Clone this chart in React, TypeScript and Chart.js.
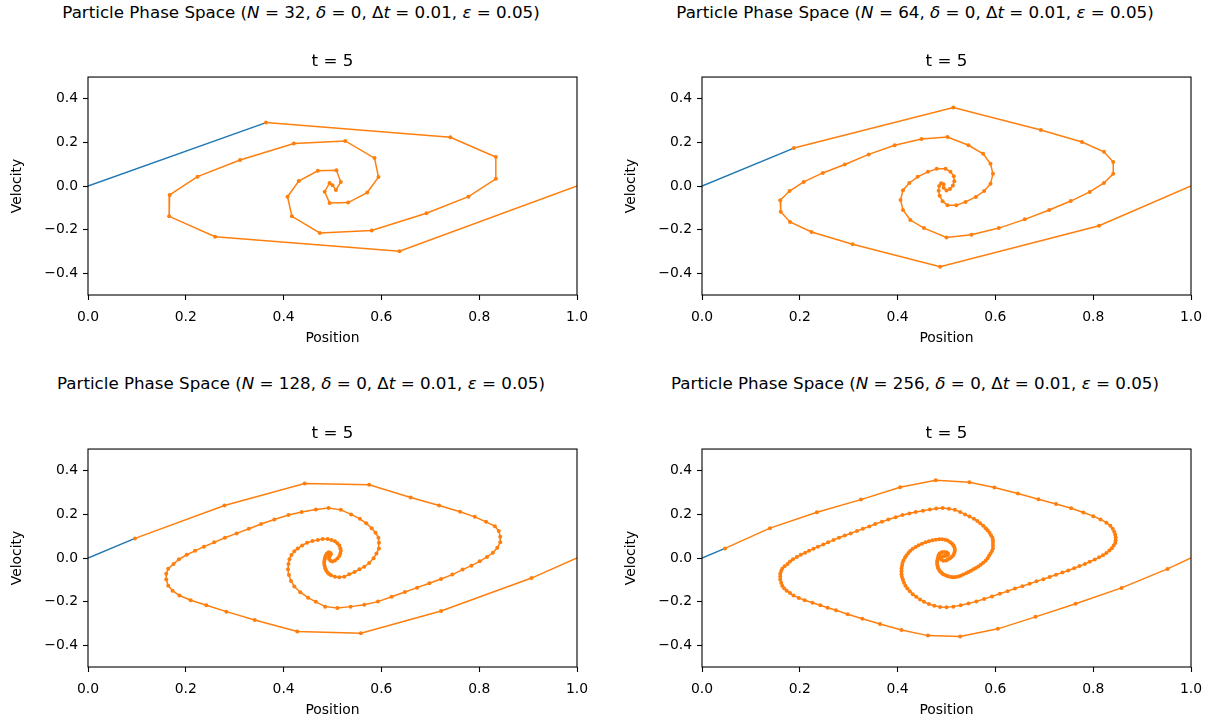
import React, { useEffect, useRef } from "react";
import { Chart, registerables } from "chart.js";

Chart.register(...registerables);

// Colours of the two line segments (matplotlib tab10 blue / orange)
const BLUE = "#1f77b4";
const ORANGE = "#ff7f0e";
const FONT = "'DejaVu Sans', 'Liberation Sans', sans-serif";

const xTickValues = [0, 0.2, 0.4, 0.6, 0.8, 1.0];
const vTickValues = [-0.4, -0.2, 0, 0.2, 0.4];
const timeLabel = "t = 5";

// Particle states at t = 5, in particle order. Particle 0 sits at (0, 0)
// and wraps to (1, 0); the arrays below hold particles 1 .. N-1.
const x32 = [0.364, 0.741, 0.834, 0.834, 0.778, 0.692, 0.580, 0.474, 0.417, 0.408, 0.431, 0.470, 0.508, 0.517, 0.507, 0.500, 0.494, 0.484, 0.494, 0.532, 0.571, 0.594, 0.586, 0.526, 0.421, 0.311, 0.224, 0.167, 0.166, 0.260, 0.637];
const v32 = [0.291, 0.224, 0.133, 0.033, -0.049, -0.125, -0.204, -0.215, -0.139, -0.049, 0.023, 0.070, 0.072, 0.018, -0.018, 0.003, 0.014, -0.026, -0.078, -0.076, -0.030, 0.041, 0.128, 0.207, 0.195, 0.119, 0.043, -0.041, -0.139, -0.233, -0.299];

const x64 = [
  0.188, 0.514, 0.693, 0.777, 0.822, 0.841, 0.841, 0.822, 0.793, 0.754, 0.710, 0.660, 0.607, 0.551, 0.500, 0.454, 0.426, 0.411, 0.406, 0.411, 0.424, 0.441, 0.462, 0.480, 0.498,
  0.508, 0.515, 0.516, 0.513, 0.507, 0.500, 0.494, 0.494,
  0.489, 0.485, 0.484, 0.486, 0.492,
  0.502, 0.520, 0.539, 0.560, 0.577, 0.590, 0.595, 0.590, 0.575, 0.545, 0.502, 0.449, 0.394, 0.341, 0.292, 0.247, 0.208, 0.179, 0.160, 0.161, 0.180, 0.224, 0.308, 0.487, 0.812,
];
const v64 = [
  0.174, 0.360, 0.257, 0.202, 0.157, 0.110, 0.056, 0.014, -0.027, -0.069, -0.110, -0.153, -0.193, -0.224, -0.236, -0.193, -0.156, -0.110, -0.064, -0.019, 0.014, 0.042, 0.065, 0.079, 0.079,
  0.066, 0.045, 0.022, 0.002, -0.014, -0.020, -0.008, 0.008,
  0.013, 0.000, -0.022, -0.045, -0.070,
  -0.088, -0.088, -0.073, -0.050, -0.023, 0.010, 0.056, 0.102, 0.148, 0.187, 0.225, 0.216, 0.187, 0.145, 0.099, 0.060, 0.019, -0.023, -0.065, -0.118, -0.165, -0.211, -0.267, -0.370, -0.182,
];

const x128 = [
  0.096, 0.279, 0.443, 0.575, 0.660, 0.718, 0.761, 0.791, 0.814, 0.832, 0.840, 0.843, 0.843, 0.837, 0.828, 0.816, 0.801, 0.784, 0.766, 0.745, 0.722, 0.698, 0.673, 0.648, 0.621, 0.593, 0.565, 0.537, 0.510, 0.485, 0.466, 0.450, 0.434, 0.422, 0.415, 0.411, 0.409, 0.410, 0.412, 0.416, 0.422, 0.429, 0.438, 0.448, 0.459, 0.470, 0.480, 0.490, 0.498,
  0.505, 0.510, 0.514, 0.516, 0.517, 0.516, 0.514, 0.510, 0.505, 0.500, 0.496, 0.493, 0.493, 0.495, 0.497, 0.495, 0.492,
  0.490, 0.488, 0.486, 0.485, 0.484, 0.483, 0.483, 0.484, 0.485, 0.487, 0.490, 0.493, 0.497,
  0.505, 0.514, 0.524, 0.534, 0.545, 0.555, 0.565, 0.575, 0.584, 0.590, 0.595, 0.595, 0.594, 0.588, 0.580, 0.569, 0.556, 0.538, 0.517,
  0.492, 0.466, 0.437, 0.410, 0.381, 0.354, 0.329, 0.304, 0.280, 0.258, 0.237, 0.219, 0.202, 0.186, 0.175, 0.164, 0.160, 0.160, 0.164, 0.173, 0.187, 0.210, 0.242, 0.283, 0.341, 0.428,
  0.558, 0.722, 0.907,
];
const v128 = [
  0.090, 0.241, 0.342, 0.336, 0.278, 0.241, 0.212, 0.189, 0.166, 0.146, 0.124, 0.098, 0.072, 0.047, 0.024, 0.005, -0.015, -0.035, -0.053, -0.076, -0.096, -0.116, -0.136, -0.156, -0.178, -0.200, -0.214, -0.223, -0.229, -0.223, -0.201, -0.182, -0.157, -0.131, -0.105, -0.078, -0.052, -0.027, -0.006, 0.014, 0.031, 0.044, 0.058, 0.070, 0.078, 0.083, 0.087, 0.087, 0.083,
  0.077, 0.068, 0.057, 0.045, 0.033, 0.021, 0.009, -0.002, -0.011, -0.016, -0.013, -0.005, 0.004, 0.012, 0.019, 0.024, 0.026,
  0.022, 0.018, 0.010, 0.002, -0.007, -0.017, -0.027, -0.037, -0.047, -0.057, -0.066, -0.073, -0.079,
  -0.086, -0.088, -0.086, -0.075, -0.064, -0.052, -0.040, -0.023, -0.001, 0.021, 0.044, 0.070, 0.093, 0.116, 0.137, 0.159, 0.180, 0.200, 0.221,
  0.230, 0.223, 0.211, 0.197, 0.177, 0.156, 0.134, 0.113, 0.093, 0.072, 0.052, 0.033, 0.015, -0.006, -0.027, -0.049, -0.072, -0.099, -0.127, -0.150, -0.172, -0.194, -0.217, -0.246, -0.284, -0.337,
  -0.345, -0.243, -0.092,
];

const x256 = [
  0.047, 0.139, 0.235, 0.325, 0.405, 0.478, 0.547, 0.598, 0.646, 0.688, 0.724, 0.755, 0.780, 0.800, 0.815, 0.827, 0.835, 0.840, 0.843, 0.845, 0.846, 0.846, 0.845, 0.842, 0.838, 0.833, 0.827, 0.820, 0.812, 0.803, 0.793, 0.783, 0.772, 0.761, 0.749, 0.737, 0.724, 0.711, 0.698, 0.684, 0.670, 0.655, 0.640, 0.625, 0.609, 0.593, 0.577, 0.561, 0.545, 0.529, 0.514, 0.500, 0.487, 0.475, 0.464, 0.454, 0.446, 0.438,
  0.431, 0.425, 0.420, 0.416, 0.413, 0.411, 0.409, 0.408, 0.408, 0.408, 0.409, 0.410, 0.412, 0.415, 0.418, 0.422, 0.426, 0.431, 0.437, 0.443, 0.450, 0.457, 0.464, 0.471, 0.478, 0.485, 0.491, 0.497, 0.502, 0.507, 0.511, 0.514, 0.516, 0.517, 0.517, 0.516, 0.514, 0.511, 0.507, 0.503,
  0.499, 0.494, 0.490, 0.488, 0.489, 0.492, 0.496, 0.500,
  0.503, 0.503, 0.500, 0.495, 0.490, 0.486, 0.484, 0.483, 0.482,
  0.481, 0.481, 0.481, 0.482, 0.483, 0.485, 0.487, 0.490, 0.493, 0.497, 0.501,
  0.505, 0.510, 0.514, 0.519, 0.524, 0.529, 0.534, 0.540, 0.545, 0.550, 0.555, 0.560, 0.565, 0.570, 0.575, 0.580, 0.584, 0.587, 0.590, 0.593, 0.595, 0.595, 0.595, 0.595, 0.594, 0.591, 0.588, 0.584, 0.580, 0.575, 0.569, 0.563, 0.556, 0.547, 0.538, 0.528, 0.517, 0.505,
  0.492, 0.479, 0.466, 0.452, 0.437, 0.424, 0.410, 0.396, 0.381, 0.368, 0.354, 0.342, 0.329, 0.317, 0.304, 0.292, 0.280, 0.269, 0.258, 0.248, 0.237, 0.228, 0.219, 0.211, 0.202, 0.194, 0.186, 0.180, 0.175, 0.169, 0.164, 0.162, 0.160, 0.160, 0.160, 0.162, 0.164, 0.168, 0.173, 0.180, 0.187, 0.198, 0.210, 0.226, 0.242,
  0.257, 0.274, 0.298, 0.328, 0.364, 0.408, 0.462, 0.528, 0.605, 0.682, 0.764, 0.858, 0.952,
];
const v256 = [
  0.044, 0.137, 0.210, 0.268, 0.325, 0.357, 0.348, 0.324, 0.296, 0.270, 0.248, 0.228, 0.209, 0.192, 0.177, 0.162, 0.148, 0.134, 0.121, 0.108, 0.095, 0.082, 0.069, 0.057, 0.045, 0.034, 0.023, 0.013, 0.003, -0.007, -0.017, -0.027, -0.037, -0.047, -0.057, -0.067, -0.077, -0.087, -0.097, -0.107, -0.118, -0.129, -0.140, -0.152, -0.164, -0.176, -0.188, -0.199, -0.209, -0.217, -0.223, -0.226, -0.225, -0.219, -0.211, -0.201, -0.190, -0.178,
  -0.166, -0.153, -0.140, -0.127, -0.114, -0.100, -0.087, -0.074, -0.061, -0.048, -0.035, -0.023, -0.011, 0.001, 0.012, 0.023, 0.033, 0.042, 0.051, 0.059, 0.066, 0.072, 0.077, 0.081, 0.084, 0.086, 0.086, 0.084, 0.080, 0.074, 0.067, 0.059, 0.050, 0.041, 0.032, 0.023, 0.014, 0.006, -0.001, -0.007,
  -0.011, -0.012, -0.008, -0.002, 0.004, 0.008, 0.009, 0.010,
  0.015, 0.021, 0.026, 0.028, 0.026, 0.021, 0.014, 0.006, -0.003,
  -0.012, -0.021, -0.030, -0.039, -0.047, -0.055, -0.062, -0.068, -0.074, -0.078, -0.082,
  -0.085, -0.087, -0.088, -0.087, -0.085, -0.081, -0.076, -0.070, -0.064, -0.058, -0.052, -0.046, -0.039, -0.031, -0.022, -0.012, -0.001, 0.010, 0.021, 0.032, 0.044, 0.057, 0.070, 0.082, 0.093, 0.105, 0.116, 0.127, 0.137, 0.148, 0.159, 0.170, 0.180, 0.190, 0.200, 0.211, 0.221, 0.226,
  0.230, 0.227, 0.223, 0.217, 0.211, 0.204, 0.197, 0.187, 0.177, 0.166, 0.156, 0.145, 0.134, 0.124, 0.113, 0.103, 0.093, 0.083, 0.072, 0.062, 0.052, 0.043, 0.033, 0.024, 0.015, 0.005, -0.006, -0.016, -0.027, -0.038, -0.049, -0.060, -0.072, -0.085, -0.099, -0.113, -0.127, -0.139, -0.150, -0.161, -0.172, -0.183, -0.194, -0.205, -0.217,
  -0.228, -0.240, -0.258, -0.279, -0.303, -0.330, -0.356, -0.360, -0.325, -0.270, -0.210, -0.137, -0.050,
];

const runs = [
  { n: 32, xs: x32, vs: v32 },
  { n: 64, xs: x64, vs: v64 },
  { n: 128, xs: x128, vs: v128 },
  { n: 256, xs: x256, vs: v256 },
];

const fmt = (val: number) => {
  const r = Math.round(val * 10) / 10;
  return (r < 0 ? "\u2212" : "") + Math.abs(r).toFixed(1);
};

// draws the four spines around the plotting area
const framePlugin = {
  id: "frame",
  afterDraw(chart: any) {
    const { ctx, chartArea } = chart;
    ctx.save();
    ctx.strokeStyle = "#000";
    ctx.lineWidth = 1.1;
    ctx.strokeRect(chartArea.left, chartArea.top, chartArea.right - chartArea.left, chartArea.bottom - chartArea.top);
    ctx.restore();
  },
};

type PanelProps = {
  n: number;
  xs: number[];
  vs: number[];
  left: number;
  top: number;
  width: number;
  axisWidth: number;
  rightPad: number;
  ylabelPad: number;
};

function Panel({ xs, vs, left, top, width, axisWidth, rightPad, ylabelPad }: PanelProps) {
  const ref = useRef<HTMLCanvasElement | null>(null);
  const height = 311;

  useEffect(() => {
    if (!ref.current) return;
    const pts = xs.map((x, i) => ({ x, y: vs[i] }));
    const chart = new Chart(ref.current, {
      type: "scatter",
      data: {
        datasets: [
          {
            data: [{ x: 0, y: 0 }, pts[0]],
            showLine: true,
            borderColor: BLUE,
            backgroundColor: BLUE,
            borderWidth: 1.5,
            pointRadius: 0,
            order: 1,
          },
          {
            data: [...pts, { x: 1, y: 0 }],
            showLine: true,
            borderColor: ORANGE,
            backgroundColor: ORANGE,
            borderWidth: 1.5,
            pointRadius: (c: any) => (c.dataIndex < pts.length ? 2 : 0),
            pointBorderWidth: 0,
            order: 0,
          },
        ],
      },
      options: {
        animation: false,
        responsive: false,
        events: [],
        layout: { padding: { left: 0, right: rightPad, top: 0, bottom: 0 } },
        plugins: {
          legend: { display: false },
          tooltip: { enabled: false },
          title: {
            display: true,
            text: timeLabel,
            fullSize: false,
            color: "#000",
            font: { family: FONT, size: 16.7, weight: "normal" },
            padding: { top: 12, bottom: 5 },
          },
        },
        scales: {
          x: {
            type: "linear",
            min: 0,
            max: 1,
            afterBuildTicks: (s: any) => {
              s.ticks = xTickValues.map((value) => ({ value }));
            },
            afterFit: (s: any) => {
              s.height = 56;
            },
            ticks: { callback: (v: any) => fmt(Number(v)), color: "#000", font: { family: FONT, size: 13.9 }, padding: 9, maxRotation: 0 },
            grid: { drawOnChartArea: false, drawTicks: true, tickLength: 5, tickColor: "#000", tickWidth: 1.1 },
            border: { display: false },
            title: { display: true, text: "Position", color: "#000", font: { family: FONT, size: 13.9 }, padding: { top: 0, bottom: 4.7 } },
          },
          y: {
            type: "linear",
            min: -0.5,
            max: 0.5,
            afterBuildTicks: (s: any) => {
              s.ticks = vTickValues.map((value) => ({ value }));
            },
            afterFit: (s: any) => {
              s.width = axisWidth;
            },
            ticks: { callback: (v: any) => fmt(Number(v)), color: "#000", font: { family: FONT, size: 13.9 }, padding: 5 },
            grid: { drawOnChartArea: false, drawTicks: true, tickLength: 5, tickColor: "#000", tickWidth: 1.1 },
            border: { display: false },
            title: { display: true, text: "Velocity", color: "#000", font: { family: FONT, size: 13.9 }, padding: { top: ylabelPad, bottom: 0 } },
          },
        },
      } as any,
      plugins: [framePlugin],
    });
    return () => chart.destroy();
  }, [xs, vs, axisWidth, rightPad, ylabelPad]);

  return (
    <canvas
      ref={ref}
      width={width}
      height={height}
      style={{ position: "absolute", left, top, width, height }}
    />
  );
}

function Heading({ n, cx, cy }: { n: number; cx: number; cy: number }) {
  return (
    <div
      style={{
        position: "absolute",
        left: cx - 300,
        top: cy - 10,
        width: 600,
        height: 20,
        lineHeight: "20px",
        textAlign: "center",
        fontFamily: FONT,
        fontSize: 16.7,
        color: "#000",
        whiteSpace: "nowrap",
      }}
    >
      Particle Phase Space (<i>N</i> = {n}, <i>δ</i> = 0, Δ<i>t</i> = 0.01, <i>ε</i> = 0.05)
    </div>
  );
}

export default function App() {
  const layout = [
    { left: 0, top: 40, width: 607, axisWidth: 88, rightPad: 30, ylabelPad: 8.7, cx: 301, cy: 12 },
    { left: 607, top: 40, width: 608, axisWidth: 95, rightPad: 24, ylabelPad: 15.7, cx: 915, cy: 12 },
    { left: 0, top: 412, width: 607, axisWidth: 88, rightPad: 30, ylabelPad: 8.7, cx: 301, cy: 383 },
    { left: 607, top: 412, width: 608, axisWidth: 95, rightPad: 24, ylabelPad: 15.7, cx: 915, cy: 383 },
  ];
  return (
    <div style={{ position: "fixed", left: 0, top: 0, width: 1215, height: 723, background: "#fff", overflow: "hidden" }}>
      {runs.map((r, i) => (
        <React.Fragment key={r.n}>
          <Heading n={r.n} cx={layout[i].cx} cy={layout[i].cy} />
          <Panel n={r.n} xs={r.xs} vs={r.vs} {...layout[i]} />
        </React.Fragment>
      ))}
    </div>
  );
}
